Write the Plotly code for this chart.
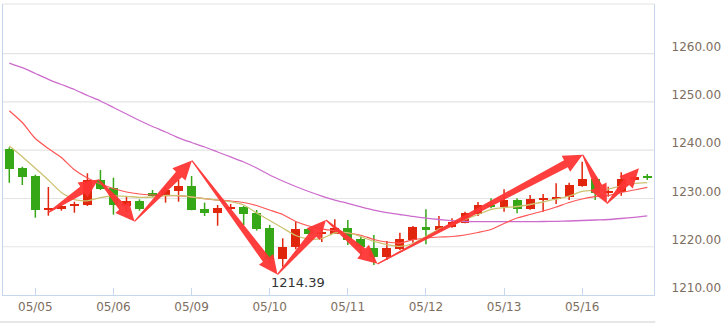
import math
import plotly.graph_objects as go

# ---------------- data ----------------
candle_idx = list(range(50))
opens = [1238.74, 1234.87, 1233.21, 1226.22, 1226.30, 1227.05, 1227.26, 1232.38, 1230.66, 1227.05,
         1228.03, 1229.62, 1229.13, 1230.16, 1231.14, 1226.37, 1225.60, 1226.43, 1226.72, 1225.60,
         1222.37, 1215.95, 1218.43, 1222.23, 1221.25, 1221.29, 1222.37, 1220.09, 1218.23, 1216.36,
         1218.08, 1219.95, 1222.58, 1222.02, 1222.70, 1223.53, 1225.33, 1227.20, 1226.85, 1228.23,
         1226.31, 1228.23, 1228.44, 1228.79, 1231.20, 1232.59, 1229.75, 1229.95, 1232.38, 1233.21]
highs = [1239.15, 1235.13, 1233.48, 1230.93, 1227.14, 1227.88, 1233.77, 1234.45, 1232.86, 1228.92,
         1228.38, 1230.31, 1230.99, 1232.38, 1233.21, 1227.68, 1227.20, 1227.41, 1226.99, 1226.16,
         1223.05, 1220.30, 1223.74, 1222.40, 1222.70, 1224.24, 1224.09, 1220.63, 1220.98, 1219.74,
         1221.46, 1222.85, 1226.31, 1224.92, 1224.44, 1225.81, 1227.82, 1228.59, 1230.45, 1228.59,
         1229.27, 1229.48, 1231.70, 1231.82, 1236.17, 1233.06, 1230.99, 1233.97, 1233.30, 1233.62]
lows = [1231.80, 1231.34, 1224.57, 1224.98, 1226.02, 1225.60, 1227.00, 1230.31, 1225.19, 1225.81,
        1226.02, 1228.79, 1227.68, 1227.88, 1226.10, 1224.92, 1222.91, 1226.20, 1223.05, 1221.90,
        1214.97, 1214.39, 1218.02, 1221.00, 1219.53, 1221.20, 1218.91, 1216.49, 1214.77, 1215.80,
        1217.87, 1219.39, 1219.06, 1221.67, 1222.50, 1223.41, 1224.92, 1226.52, 1225.81, 1225.48,
        1226.20, 1225.81, 1227.41, 1228.23, 1231.00, 1228.23, 1228.92, 1229.13, 1232.20, 1232.38]
closes = [1234.66, 1233.06, 1226.22, 1226.51, 1226.99, 1227.41, 1232.38, 1230.58, 1227.14, 1228.03,
          1226.43, 1229.13, 1230.31, 1231.14, 1226.22, 1225.60, 1226.58, 1226.85, 1225.33, 1222.29,
          1216.01, 1218.50, 1222.23, 1221.13, 1221.60, 1222.43, 1219.95, 1218.43, 1216.36, 1218.23,
          1220.09, 1222.58, 1222.02, 1222.91, 1223.74, 1225.60, 1227.20, 1226.85, 1228.23, 1226.31,
          1228.38, 1228.65, 1228.92, 1231.34, 1232.59, 1229.75, 1230.16, 1232.59, 1233.06, 1232.73]

ma_yellow = [1239.42, 1237.21, 1234.80, 1232.38, 1229.79, 1228.32, 1228.07, 1228.75, 1229.06, 1229.00,
             1228.79, 1228.86, 1229.17, 1229.13, 1228.86, 1228.50, 1228.23, 1227.88, 1227.20, 1225.54,
             1223.99, 1222.43, 1220.88, 1220.15, 1220.26, 1221.40, 1221.46, 1220.67, 1219.64, 1219.01,
             1218.64, 1219.22, 1220.67, 1222.23, 1223.05, 1224.19, 1225.23, 1226.31, 1226.68, 1226.89,
             1227.30, 1227.82, 1228.44, 1229.06, 1230.00, 1230.31, 1230.51, 1231.14, 1231.65, 1231.82]
ma_red = [1246.74, 1244.29, 1240.98, 1238.90, 1237.04, 1234.50, 1232.79, 1231.55, 1230.62, 1229.90,
          1229.48, 1229.27, 1229.13, 1229.13, 1228.86, 1228.50, 1228.23, 1228.03, 1227.72, 1227.09,
          1226.16, 1225.23, 1223.78, 1222.85, 1222.27, 1221.85, 1221.40, 1220.94, 1220.05, 1219.53,
          1219.32, 1220.00, 1220.36, 1220.57, 1220.67, 1220.98, 1221.50, 1222.12, 1223.37, 1224.50,
          1225.23, 1225.96, 1226.78, 1227.72, 1228.44, 1228.92, 1229.17, 1229.79, 1230.31, 1230.87]
ma_purple = [1256.62, 1255.65, 1254.45, 1253.25, 1252.17, 1251.13, 1249.89, 1248.75, 1247.40, 1246.05,
             1244.71, 1243.46, 1242.33, 1241.12, 1240.15, 1239.22, 1238.18, 1237.15, 1236.11, 1234.87,
             1233.42, 1232.17, 1231.03, 1230.00, 1229.06, 1228.23, 1227.55, 1226.83, 1226.16, 1225.64,
             1225.23, 1224.82, 1224.50, 1224.19, 1223.95, 1223.78, 1223.74, 1223.74, 1223.74, 1223.74,
             1223.74, 1223.78, 1223.82, 1223.88, 1223.99, 1224.09, 1224.19, 1224.40, 1224.65, 1224.96]

x_tick_idx = [2, 8, 14, 20, 26, 32, 38, 44]
x_tick_text = ['05/05', '05/06', '05/09', '05/10', '05/11', '05/12', '05/13', '05/16']
y_ticks = [1210, 1220, 1230, 1240, 1250, 1260]

# zigzag trend arrows (index, price)
arrow_x = [2.97, 6.84, 9.62, 14.03, 20.60, 24.32, 28.28, 44.04, 45.90, 48.36]
arrow_y = [1225.6, 1232.5, 1223.8, 1236.4, 1212.8, 1224.1, 1215.0, 1237.6, 1227.5, 1234.8]

low_idx = 21
low_label = '1214.39'

# ---------------- layout constants ----------------
W, H = 728, 325
M_L, M_R, M_T, M_B = 3, 74, 4, 30
X_RANGE = [-0.484, 49.516]
Y_RANGE = [1208.55, 1268.85]
GRID_OFFSET = 1.45

UP = '#e0260c'
DOWN = '#36a818'
BORDER = '#c6d6ec'
GRID = '#e4e4e4'
LABEL = '#7d6e60'

fig = go.Figure()

# candle bodies
body_base, body_h, body_col = [], [], []
for o, c in zip(opens, closes):
    lo, hi = min(o, c), max(o, c)
    h = max(hi - lo, 0.4)
    body_base.append(lo if hi - lo >= 0.4 else (lo + hi) / 2 - 0.2)
    body_h.append(h)
    body_col.append(UP if c >= o else DOWN)

# wicks
for col in (UP, DOWN):
    wx, wy = [], []
    for i, o, h, l, c in zip(candle_idx, opens, highs, lows, closes):
        if (UP if c >= o else DOWN) == col:
            wx += [i, i, None]
            wy += [l, h, None]
    fig.add_trace(go.Scatter(x=wx, y=wy, mode='lines', line=dict(color=col, width=1.5),
                             hoverinfo='skip', showlegend=False))

fig.add_trace(go.Bar(x=candle_idx, y=body_h, base=body_base, width=0.68,
                     marker=dict(color=body_col, line=dict(width=0)), showlegend=False))

# moving averages
fig.add_trace(go.Scatter(x=candle_idx, y=ma_purple, mode='lines', line=dict(color='#cc6ccc', width=1.3, shape='spline', smoothing=0.6), showlegend=False))
fig.add_trace(go.Scatter(x=candle_idx, y=ma_red, mode='lines', line=dict(color='#ff5555', width=1.2, shape='spline', smoothing=0.6), showlegend=False))
fig.add_trace(go.Scatter(x=candle_idx, y=ma_yellow, mode='lines', line=dict(color='#cdc272', width=1.3, shape='spline', smoothing=0.6), showlegend=False))

# tapered arrows
plot_w = W - M_L - M_R
plot_h = H - M_T - M_B
sx = plot_w / (X_RANGE[1] - X_RANGE[0])
sy = plot_h / (Y_RANGE[1] - Y_RANGE[0])
HEAD_L, HEAD_W, TAIL_W, BASE_W = 19.0, 9.0, 0.6, 4.0
for k in range(len(arrow_x) - 1):
    ax, ay = arrow_x[k] * sx, arrow_y[k] * sy
    bx, by = arrow_x[k + 1] * sx, arrow_y[k + 1] * sy
    dx, dy = bx - ax, by - ay
    L = math.hypot(dx, dy)
    ux, uy = dx / L, dy / L
    nx, ny = -uy, ux
    hx, hy = bx - ux * HEAD_L, by - uy * HEAD_L
    pts = [
        (ax + nx * TAIL_W, ay + ny * TAIL_W),
        (hx + nx * BASE_W, hy + ny * BASE_W),
        (hx + nx * HEAD_W, hy + ny * HEAD_W),
        (bx, by),
        (hx - nx * HEAD_W, hy - ny * HEAD_W),
        (hx - nx * BASE_W, hy - ny * BASE_W),
        (ax - nx * TAIL_W, ay - ny * TAIL_W),
    ]
    px = [p[0] / sx for p in pts] + [pts[0][0] / sx]
    py = [p[1] / sy for p in pts] + [pts[0][1] / sy]
    fig.add_trace(go.Scatter(x=px, y=py, mode='lines', fill='toself',
                             fillcolor='rgba(255,52,52,0.95)', line=dict(width=0, color='rgba(255,52,52,0.95)'),
                             hoverinfo='skip', showlegend=False))

# gridlines (drawn slightly below tick values, as in the source chart)
shapes = []
for t in y_ticks[1:]:
    shapes.append(dict(type='line', xref='paper', yref='y', x0=0, x1=1,
                       y0=t - GRID_OFFSET, y1=t - GRID_OFFSET, line=dict(color=GRID, width=1.2), layer='below'))
shapes.append(dict(type='line', xref='paper', yref='paper', x0=0, x1=1, y0=1, y1=1,
                   line=dict(color=GRID, width=1.2), layer='below'))
shapes.append(dict(type='line', xref='paper', yref='paper', x0=-0.005, x1=1.002,
                   y0=-27 / plot_h, y1=-27 / plot_h, line=dict(color='#cfcfcf', width=1.2)))

fig.add_annotation(x=low_idx, y=lows[low_idx], text=low_label, showarrow=False,
                   xanchor='center', yanchor='top', xshift=15, yshift=-6,
                   font=dict(family='DejaVu Sans', size=13, color='#333333'))

fig.update_layout(
    width=W, height=H,
    margin=dict(l=M_L, r=M_R, t=M_T, b=M_B, pad=0),
    paper_bgcolor='white', plot_bgcolor='white',
    showlegend=False, bargap=0,
    shapes=shapes,
    font=dict(family='DejaVu Sans', size=12, color=LABEL),
    xaxis=dict(range=X_RANGE, tickvals=x_tick_idx, ticktext=x_tick_text,
               ticks='inside', ticklen=7, tickcolor=BORDER, tickwidth=1,
               showline=True, linecolor=BORDER, linewidth=1.2, showgrid=False, zeroline=False,
               tickfont=dict(family='DejaVu Sans', size=12, color=LABEL), fixedrange=True),
    yaxis=dict(range=Y_RANGE, side='right', tickvals=y_ticks, tickformat='.2f',
               ticks='', showline=True, mirror=True, linecolor=BORDER, linewidth=1.2,
               showgrid=False, zeroline=False, ticklabelstandoff=14,
               tickfont=dict(family='DejaVu Sans', size=12, color=LABEL), fixedrange=True),
)

fig.write_html('out.html')
